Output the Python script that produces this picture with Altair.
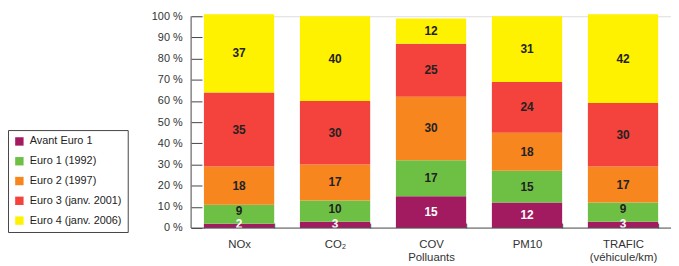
import altair as alt
import pandas as pd

categories = ["NOx", "CO₂", "COV|Polluants", "PM10", "TRAFIC|(véhicule/km)"]
series = ["Avant Euro 1", "Euro 1 (1992)", "Euro 2 (1997)", "Euro 3 (janv. 2001)", "Euro 4 (janv. 2006)"]
colors = ["#A21B61", "#6EC044", "#F7861F", "#F3433C", "#FFF200"]
avant = [2, 3, 15, 12, 3]
euro1 = [9, 10, 17, 15, 9]
euro2 = [18, 17, 30, 18, 17]
euro3 = [35, 30, 25, 24, 30]
euro4 = [37, 40, 12, 31, 42]
y_ticks = [0, 10, 20, 30, 40, 50, 60, 70, 80, 90, 100]

rows = []
for si, (s, vals) in enumerate(zip(series, [avant, euro1, euro2, euro3, euro4])):
    for c, v in zip(categories, vals):
        rows.append({"cat": c, "series": s, "idx": si, "value": v})
df = pd.DataFrame(rows)

FONT = "Liberation Sans"

xscale = alt.Scale(paddingInner=0.268, paddingOuter=0.134)
xaxis = alt.Axis(
    labelExpr="split(datum.label, '|')", labelAngle=0, labelFont=FONT,
    labelFontSize=11.5, labelColor="#333", labelLineHeight=13,
    tickBand="extent", tickSize=5, tickColor="#444", offset=-5,
    labelPadding=11, domain=False,
)
yscale = alt.Scale(domain=[0, 100], nice=False)
yaxis = alt.Axis(
    values=y_ticks, labelExpr="datum.value + ' %'", labelFont=FONT,
    labelFontSize=11, labelColor="#333", tickSize=11, tickColor="#444",
    offset=-11, labelPadding=9, domain=False, grid=False, labelOverlap=False,
)

bars = alt.Chart(df).mark_bar().encode(
    x=alt.X("cat:N", sort=categories, title=None, scale=xscale, axis=xaxis),
    y=alt.Y("value:Q", stack="zero", scale=yscale, axis=yaxis, title=None),
    color=alt.Color(
        "series:N", sort=series,
        scale=alt.Scale(domain=series, range=colors),
        legend=alt.Legend(
            title=None,
            orient="none", legendX=-185, legendY=115,
            symbolType="square", symbolSize=72, symbolStrokeWidth=0,
            labelFont=FONT, labelFontSize=11, labelColor="#222",
            labelOffset=5, rowPadding=8, padding=6,
            strokeColor="#444", fillColor="white",
        ),
    ),
    order=alt.Order("idx:Q", sort="ascending"),
)

text = alt.Chart(df).transform_stack(
    stack="value", groupby=["cat"], as_=["y0", "y1"],
    sort=[alt.SortField("idx", order="ascending")],
).transform_calculate(
    mid="max((datum.y0 + datum.y1) / 2, datum.y0 + (datum.idx == 0 ? 2.1 : 5.9))"
).mark_text(font=FONT, fontSize=12, fontWeight="bold", baseline="middle").encode(
    x=alt.X("cat:N", sort=categories, title=None, scale=xscale, axis=xaxis),
    y=alt.Y("mid:Q", scale=yscale, axis=yaxis, title=None),
    text="value:Q",
    color=alt.condition(alt.datum.series == "Avant Euro 1", alt.value("white"), alt.value("#222")),
)

dom = pd.DataFrame({"a": [0], "b": [100]})
ydom = alt.Chart(dom).mark_rule(color="#555", strokeWidth=1).encode(
    x=alt.value(0), y=alt.Y("a:Q", scale=yscale, axis=yaxis, title=None), y2=alt.Y2("b:Q")
)
xdom = alt.Chart(dom).mark_rule(color="#555", strokeWidth=1).encode(
    x=alt.value(0), x2=alt.value(485), y=alt.Y("a:Q", scale=yscale, axis=yaxis, title=None)
)

chart = alt.layer(bars, text, ydom, xdom).properties(
    width=485, height=214,
    autosize=alt.AutoSizeParams(type="none"),
    padding={"left": 185, "top": 7, "right": 0, "bottom": 36},
).configure_view(stroke=None).configure(font=FONT)

chart.save("out.html", embed_options={"renderer": "svg", "actions": False})
